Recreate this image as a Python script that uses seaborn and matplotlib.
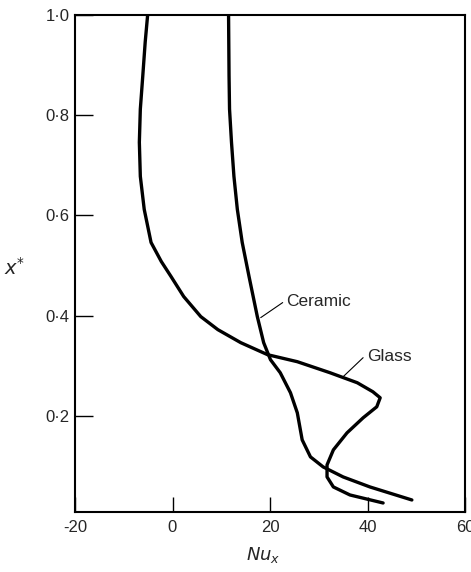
import matplotlib
matplotlib.use("Agg")
import matplotlib.pyplot as plt
import seaborn as sns
import pandas as pd

# Data
glass_nu = [-5.1, -5.6, -6.1, -6.6, -6.8, -6.6, -5.8, -4.4, -2.3, -0.3, 2.3, 5.8,
            9.3, 14.0, 19.5, 25.6, 32.3, 37.9, 41.1, 42.6, 41.9, 39.1, 35.8,
            33.0, 31.7, 31.7, 33.0, 36.4, 43.2]
glass_x = [1.0, 0.946, 0.878, 0.812, 0.746, 0.678, 0.612, 0.546, 0.508, 0.478,
           0.438, 0.398, 0.372, 0.346, 0.322, 0.308, 0.286, 0.266, 0.248, 0.236,
           0.218, 0.196, 0.166, 0.132, 0.102, 0.078, 0.058, 0.042, 0.026]
ceramic_nu = [11.5, 11.6, 11.7, 12.1, 12.6, 13.3, 14.3, 15.7, 17.4, 18.7, 20.1,
              22.1, 24.2, 25.6, 26.6, 28.3, 30.9, 35.0, 40.5, 49.1]
ceramic_x = [1.0, 0.878, 0.812, 0.746, 0.678, 0.612, 0.546, 0.478, 0.398, 0.346,
             0.312, 0.286, 0.246, 0.206, 0.152, 0.118, 0.098, 0.078, 0.058, 0.032]
x_ticks = [-20, 0, 20, 40, 60]
x_ticklabels = ["-20", "0", "20", "40", "60"]
y_ticks = [0.2, 0.4, 0.6, 0.8, 1.0]
y_ticklabels = ["0·2", "0·4", "0·6", "0·8", "1·0"]

df = pd.concat([
    pd.DataFrame({"Nu": glass_nu, "x": glass_x, "material": "Glass"}),
    pd.DataFrame({"Nu": ceramic_nu, "x": ceramic_x, "material": "Ceramic"}),
], ignore_index=True)

sns.set_theme(style="white")
plt.rcParams["font.family"] = ["Liberation Sans", "DejaVu Sans"]
plt.rcParams["mathtext.fontset"] = "dejavusans"

fig = plt.figure(figsize=(4.71, 5.72), dpi=100)
ax = fig.add_axes([75 / 471, 1 - 512 / 572, (465 - 75) / 471, (512 - 15) / 572])

sns.lineplot(data=df, x="Nu", y="x", hue="material", units="material",
             estimator=None, sort=False, palette=["black", "black"],
             linewidth=2.4, legend=False, ax=ax)

ax.set_xlim(-20, 60)
ax.set_ylim(0.008, 1.0)
ax.set_xticks(x_ticks)
ax.set_xticklabels(x_ticklabels)
ax.set_yticks(y_ticks)
ax.set_yticklabels(y_ticklabels)
ax.tick_params(axis="y", direction="in", length=13, width=1.0, color="black",
               labelsize=12, pad=4, left=True)
ax.tick_params(axis="x", direction="in", length=11, width=1.0, color="black",
               labelsize=12, pad=6, bottom=True)
for s in ax.spines.values():
    s.set_color("black")
    s.set_linewidth(1.5)
ax.set_xlabel("")
ax.set_ylabel("")

# Labels with leader lines
ax.plot([18.1, 22.6], [0.396, 0.426], color="black", lw=0.8)
ax.text(23.3, 0.428, "Ceramic", fontsize=12.5, ha="left", va="center")
ax.plot([35.0, 39.1], [0.278, 0.316], color="black", lw=0.8)
ax.text(39.9, 0.318, "Glass", fontsize=12.5, ha="left", va="center")

fig.text(15 / 471, 1 - 268 / 572, r"$x^{*}$", fontsize=14, ha="center", va="center")
fig.text(263 / 471, 1 - 555 / 572, r"$Nu_x$", fontsize=13, ha="center", va="center")

fig.savefig("out.png", dpi=100)
